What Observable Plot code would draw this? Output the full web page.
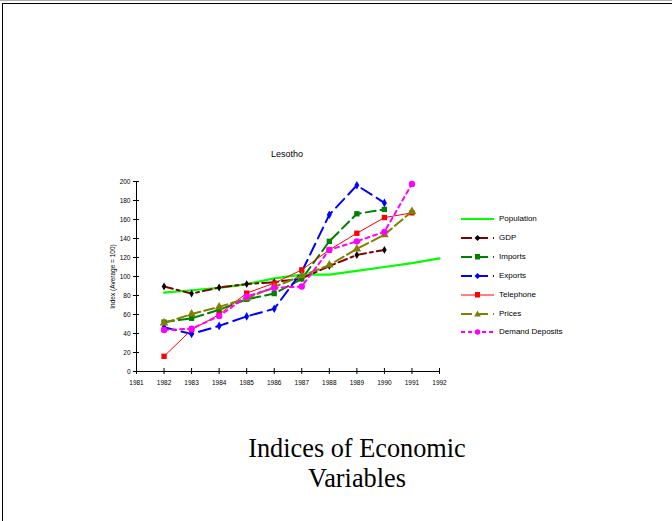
<!DOCTYPE html>
<html><head><meta charset="utf-8">
<script src="https://cdn.jsdelivr.net/npm/d3@7"></script>
<script src="https://cdn.jsdelivr.net/npm/@observablehq/plot@0.6"></script>
<style>
body{margin:0;background:#fff;}
#wrap{position:relative;width:672px;height:521px;overflow:hidden;font-family:"Liberation Sans",Arial,sans-serif;background:#fff;}
#topline{position:absolute;left:0;top:0;width:672px;height:1px;background:#aaa;}
#frame{position:absolute;left:2px;top:3px;width:800px;height:700px;border-left:1.5px solid #000;border-top:1.5px solid #000;}
#chart{position:absolute;left:0;top:0;}
#title{position:absolute;left:0;width:574px;top:149px;text-align:center;font-size:9px;color:#000;}
#legend{position:absolute;left:461px;top:214px;font-size:8px;}
#legend .row{position:absolute;left:0;height:12px;white-space:nowrap;}
#legend svg{position:absolute;left:0;top:0;}
#legend span{position:absolute;left:38px;top:0px;}
#caption{position:absolute;left:0;width:714px;top:434px;text-align:center;font-family:"Liberation Serif","Times New Roman",serif;font-size:26.3px;line-height:29.5px;color:#000;}
</style>
</head><body>
<div id="wrap">
<div id="topline"></div>
<div id="frame"></div>
<div id="chart"></div>
<div id="title">Lesotho</div>
<div id="legend"></div>
<div id="caption">Indices of Economic<br>Variables</div>
</div>
<script>
const years = [1982,1983,1984,1985,1986,1987,1988,1989,1990,1991,1992];
const tickYears = [1981,1982,1983,1984,1985,1986,1987,1988,1989,1990,1991,1992];
const yTicks = [0,20,40,60,80,100,120,140,160,180,200];

const population = [83,85.5,88,92,98,102,102,106,110,114,119];
const gdp        = [89.5,82,88.4,92,94,98,111,122.7,128,null,null];
const imports    = [52,56,65,76,82,97.5,137,166,170.6,null,null];
const exports    = [46.5,39.5,48,58,66,105,165,196,177.5,null,null];
const telephone  = [16,44,60,82.5,93,107,128,145.5,162,167,null];
const prices     = [51,60.5,68,77,89,100.7,112,129,144,168.5,null];
const deposits   = [43.7,45,58.4,79,88,89.5,128,137,147,197.5,null];

const seriesNames = ["Population","GDP","Imports","Exports","Telephone","Prices","Demand Deposits"];
const seriesValues = [population,gdp,imports,exports,telephone,prices,deposits];
const styles = {
  "Population":      {stroke:"#00ff00", width:2.2, dash:null,        symbol:null,       fill:null,     r:0},
  "GDP":             {stroke:"#800000", width:2,   dash:"9,4,3,4",   symbol:"diamond",  fill:"#000000", r:2.4},
  "Imports":         {stroke:"#008000", width:2,   dash:"10,5",      symbol:"square",   fill:"#008000", r:3},
  "Exports":         {stroke:"#0000ff", width:2,   dash:"12,6",      symbol:"diamond",  fill:"#0000ff", r:2.6},
  "Telephone":       {stroke:"#ff0000", width:1,   dash:null,        symbol:"square",   fill:"#ff0000", r:3},
  "Prices":          {stroke:"#808000", width:2,   dash:"10,4",      symbol:"triangle", fill:"#808000", r:3.2},
  "Demand Deposits": {stroke:"#ff00ff", width:2,   dash:"4,4",       symbol:"circle",   fill:"#ff00ff", r:3.2}
};

const data = [];
seriesNames.forEach((name,i) => {
  seriesValues[i].forEach((v,j) => { if (v != null) data.push({series:name, year:years[j], value:v}); });
});

const marks = [
  Plot.ruleX([1981], {stroke:"#000", strokeWidth:1}),
  Plot.ruleY([0], {stroke:"#000", strokeWidth:1}),
  Plot.axisY({ticks:yTicks, tickSize:0, tickPadding:6, fontSize:6.5, label:"Index (Average = 100)", labelAnchor:"center", labelArrow:"none", labelOffset:26}),
  Plot.axisY({ticks:yTicks, tickSize:6, dx:3, tickFormat:()=>"", label:null}),
  Plot.axisX({ticks:tickYears, tickSize:0, tickPadding:9, fontSize:6.5, tickFormat:d=>String(d), label:null}),
  Plot.axisX({ticks:tickYears, tickSize:6, dy:-3, tickFormat:()=>"", label:null})
];
seriesNames.forEach(name => {
  const s = styles[name];
  const d = data.filter(e => e.series === name);
  marks.push(Plot.line(d, {x:"year", y:"value", stroke:s.stroke, strokeWidth:s.width, strokeDasharray:s.dash, curve:"linear"}));
});
seriesNames.forEach(name => {
  const s = styles[name];
  if (!s.symbol) return;
  const d = data.filter(e => e.series === name);
  marks.push(Plot.dot(d, {x:"year", y:"value", symbol:()=>s.symbol, fill:s.fill, stroke:"none", r:s.r}));
});

const chart = Plot.plot({
  width:672, height:521,
  marginLeft:136, marginRight:233, marginTop:181, marginBottom:150,
  x:{domain:[1981,1992], axis:null},
  y:{domain:[0,200], axis:null},
  symbol:{type:"identity"},
  style:{fontFamily:"'Liberation Sans', Arial, sans-serif", color:"#000", background:"transparent"},
  marks
});
document.getElementById("chart").appendChild(chart);

// legend
const legend = document.getElementById("legend");
const symPaths = {
  diamond: "M16.5,2 L19.5,5 L16.5,8 L13.5,5 Z",
  square: "M14,2 L19,2 L19,7.5 L14,7.5 Z",
  triangle: "M16.5,1.5 L19.8,7.5 L13.2,7.5 Z"
};
seriesNames.forEach((name,i) => {
  const s = styles[name];
  const row = document.createElement("div");
  row.className = "row";
  row.style.top = (i*18.9) + "px";
  let svg = `<svg width="36" height="10"><line x1="0" y1="5" x2="33" y2="5" stroke="${s.stroke}" stroke-width="${s.width}" ${s.dash ? `stroke-dasharray="${name==="Demand Deposits"?"4,3":"11,5"}"` : ""}/>`;
  if (s.symbol === "circle") svg += `<circle cx="16.5" cy="5" r="2.8" fill="${s.fill}"/>`;
  else if (s.symbol) svg += `<path d="${symPaths[s.symbol]}" fill="${s.fill}"/>`;
  svg += `</svg>`;
  row.innerHTML = svg + `<span>${name}</span>`;
  legend.appendChild(row);
});
</script>
</body></html>
